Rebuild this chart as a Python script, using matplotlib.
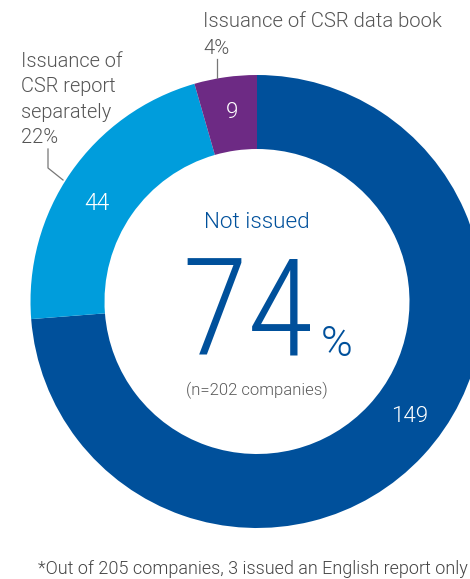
import matplotlib
matplotlib.use("Agg")
import matplotlib.pyplot as plt

# Data
categories = ["Not issued", "Issuance of CSR report separately", "Issuance of CSR data book"]
counts = [149, 44, 9]
shares = ["74", "22%", "4%"]
colors = ["#00509B", "#009DDC", "#6D2A84"]

W, H = 470, 579
fig = plt.figure(figsize=(W / 100, H / 100), dpi=100)
ax = fig.add_axes([0, 0, 1, 1])

cx, cy = 257, H - 301.5
R_out, R_in = 226.5, 152.5

wedges, _ = ax.pie(counts, colors=colors, startangle=90, counterclock=False,
                   center=(cx, cy), radius=R_out,
                   wedgeprops=dict(width=R_out - R_in, linewidth=0))
ax.set_xlim(0, W)
ax.set_ylim(0, H)
ax.set_aspect("equal")
ax.axis("off")

FONT = "Roboto"
gray = "#555555"
line_gray = "#777777"


def Y(y):
    return H - y


# Counts inside the ring
ax.text(410, Y(417), str(counts[0]), color="white", fontsize=16, family=FONT,
        weight=300, ha="center", va="center")
ax.text(97, Y(203), str(counts[1]), color="white", fontsize=16.5, family=FONT,
        weight=300, ha="center", va="center")
ax.text(232, Y(113), str(counts[2]), color="white", fontsize=16, family=FONT,
        weight=300, ha="center", va="center")

# Centre text
ax.text(257, Y(222), categories[0], color=colors[0], fontsize=16.2, family=FONT,
        weight=300, ha="center", va="center")
ax.text(314, Y(355), shares[0], color=colors[0], fontsize=98, family="Roboto Condensed",
        weight=300, ha="right", va="baseline")
ax.text(321, Y(356), "%", color=colors[0], fontsize=31, family=FONT,
        weight=300, ha="left", va="baseline")
ax.text(257, Y(390), "(n=202 companies)", color="#5a5a5a", fontsize=12, family=FONT,
        weight=300, ha="center", va="center")

# Outside labels
ax.text(203, Y(27), "Issuance of CSR data book", color=gray, fontsize=14.6,
        family=FONT, weight=300, ha="left", va="baseline")
ax.text(203, Y(54), shares[2], color=gray, fontsize=14.6,
        family=FONT, weight=300, ha="left", va="baseline")
ax.plot([217, 217], [Y(59), Y(78)], color=line_gray, lw=0.9)

for i, line in enumerate(["Issuance of", "CSR report", "separately", shares[1]]):
    ax.text(21, Y(67 + 25.3 * i), line, color=gray, fontsize=14.4,
            family=FONT, weight=300, ha="left", va="baseline")
ax.plot([48, 48, 63], [Y(149), Y(168), Y(180)], color=line_gray, lw=0.9)

# Footnote
ax.text(38, Y(574.5), "*Out of 205 companies, 3 issued an English report only",
        color="#444444", fontsize=13, family=FONT, weight=300,
        ha="left", va="baseline")

fig.savefig("out.png", dpi=100)
